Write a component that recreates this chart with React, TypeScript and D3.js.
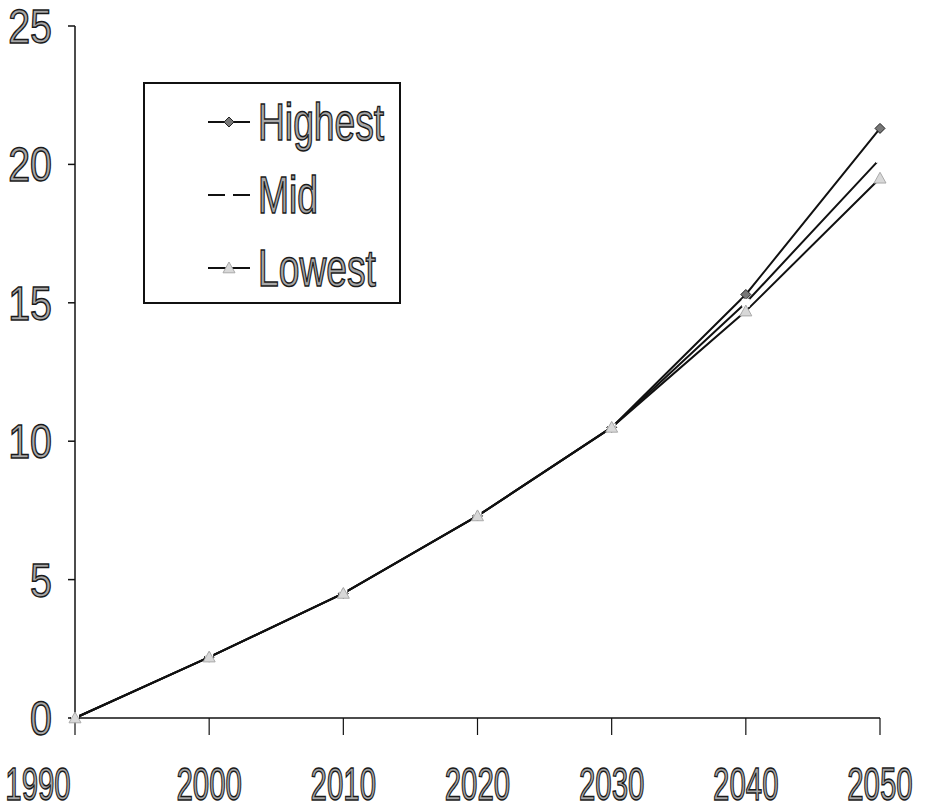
import React from "react";
import * as d3 from "d3";

const years = [1990, 2000, 2010, 2020, 2030, 2040, 2050];
const highest = [0, 2.2, 4.5, 7.3, 10.5, 15.3, 21.3];
const mid = [0, 2.2, 4.5, 7.3, 10.5, 15.0, 20.2];
const lowest = [0, 2.2, 4.5, 7.3, 10.5, 14.7, 19.5];
const yTicks = [0, 5, 10, 15, 20, 25];
const seriesNames = ["Highest", "Mid", "Lowest"];

const W = 931;
const H = 811;
const left = 75;
const right = 880;
const top = 26;
const bottom = 718;

const textStyle = {
  fontFamily: "Liberation Sans, Arial, sans-serif",
  fill: "#a8a8a8",
  stroke: "#1a1a1a",
  strokeWidth: 1.5,
};

function Marker({ kind, x, y }: { kind: string; x: number; y: number }) {
  if (kind === "Highest") {
    const s = 5;
    return (
      <path
        d={`M${x},${y - s}L${x + s},${y}L${x},${y + s}L${x - s},${y}Z`}
        fill="#777"
        stroke="#222"
        strokeWidth={1}
      />
    );
  }
  if (kind === "Mid") {
    return <rect x={x - 4} y={y - 4} width={8} height={8} fill="#fff" />;
  }
  const s = 6;
  return (
    <path
      d={`M${x},${y - s}L${x + s},${y + s * 0.8}L${x - s},${y + s * 0.8}Z`}
      fill="#d8d8d8"
      stroke="#aaa"
      strokeWidth={1}
    />
  );
}

export default function App() {
  const x = d3.scaleLinear().domain([1990, 2050]).range([left, right]);
  const y = d3.scaleLinear().domain([0, 25]).range([bottom, top]);
  const line = d3
    .line<[number, number]>()
    .x((d) => x(d[0]))
    .y((d) => y(d[1]));

  const series = [
    { name: "Highest", values: highest },
    { name: "Mid", values: mid },
    { name: "Lowest", values: lowest },
  ];

  const legendRows = [122, 195, 268];

  return (
    <svg
      width={W}
      height={H}
      style={{ position: "absolute", left: 0, top: 0, background: "#fff" }}
    >
      {/* axes */}
      <line x1={left} x2={left} y1={top} y2={bottom} stroke="#111" strokeWidth={1.5} />
      <line x1={left} x2={right} y1={bottom} y2={bottom} stroke="#111" strokeWidth={1.5} />
      {yTicks.map((t) => (
        <g key={t}>
          <line x1={left - 7} x2={left} y1={y(t)} y2={y(t)} stroke="#111" strokeWidth={1.5} />
          <text
            x={52}
            y={y(t) + 17}
            textAnchor="end"
            fontSize={48}
            style={textStyle}
            transform={`translate(52,0) scale(0.82,1) translate(-52,0)`}
          >
            {t}
          </text>
        </g>
      ))}
      {years.map((yr, i) => {
        const cx = i === 0 ? x(yr) - 37 : x(yr);
        return (
          <g key={yr}>
            <line x1={x(yr)} x2={x(yr)} y1={bottom} y2={bottom + 17} stroke="#111" strokeWidth={1.2} />
            <text
              x={cx}
              y={800}
              textAnchor="middle"
              fontSize={46}
              style={textStyle}
              transform={`translate(${cx},0) scale(0.64,1) translate(${-cx},0)`}
            >
              {yr}
            </text>
          </g>
        );
      })}

      {/* series lines */}
      {series.map((s) => (
        <path
          key={s.name}
          d={line(years.map((yr, i) => [yr, s.values[i]]) as [number, number][]) || ""}
          fill="none"
          stroke="#111"
          strokeWidth={2}
        />
      ))}
      {series.map((s) =>
        years.map((yr, i) => (
          <Marker key={s.name + yr} kind={s.name} x={x(yr)} y={y(s.values[i])} />
        ))
      )}

      {/* legend */}
      <rect x={144} y={83} width={256} height={220} fill="#fff" stroke="#111" strokeWidth={2} />
      {seriesNames.map((n, i) => (
        <g key={n}>
          <line x1={208} x2={250} y1={legendRows[i]} y2={legendRows[i]} stroke="#111" strokeWidth={2} />
          <Marker kind={n} x={229} y={legendRows[i]} />
          <text
            x={258}
            y={legendRows[i] + 18}
            fontSize={51}
            style={textStyle}
            transform={`translate(258,0) scale(0.73,1) translate(-258,0)`}
          >
            {n}
          </text>
        </g>
      ))}
    </svg>
  );
}
